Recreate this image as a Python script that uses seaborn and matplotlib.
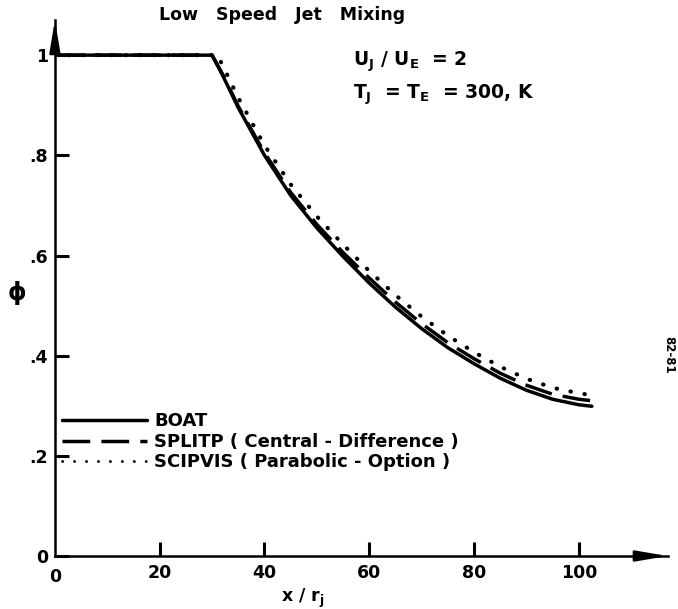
import matplotlib
matplotlib.use("Agg")
import matplotlib.pyplot as plt
import seaborn as sns

# centreline values
x_boat = [0, 30, 32, 35, 40, 45, 50, 55, 60, 65, 70, 75, 80, 85, 90, 95, 100, 102.5]
phi_boat = [1.0, 1.0, 0.96, 0.895, 0.80, 0.72, 0.655, 0.598, 0.545, 0.497, 0.454,
            0.416, 0.384, 0.355, 0.331, 0.313, 0.302, 0.299]

x_splitp = [0, 30, 32, 35, 40, 45, 50, 55, 60, 65, 70, 75, 80, 85, 90, 95, 100, 102.5]
phi_splitp = [1.0, 1.0, 0.962, 0.898, 0.805, 0.726, 0.662, 0.606, 0.555, 0.507, 0.464,
              0.426, 0.394, 0.365, 0.341, 0.323, 0.313, 0.310]

x_scipvis = [0, 31, 32, 35, 40, 45, 50, 55, 60, 65, 70, 75, 80, 85, 90, 95, 100, 102.5]
phi_scipvis = [1.0, 1.0, 0.98, 0.915, 0.82, 0.742, 0.678, 0.622, 0.569, 0.521, 0.478,
               0.440, 0.407, 0.378, 0.354, 0.336, 0.325, 0.321]

x_ticks = [0, 20, 40, 60, 80, 100]
x_tick_labels = ["0", "20", "40", "60", "80", "100"]
y_ticks = [0, 0.2, 0.4, 0.6, 0.8, 1.0]
y_tick_labels = ["0", ".2", ".4", ".6", ".8", "1"]

sns.set_style("white")
plt.rcParams["font.family"] = ["DejaVu Sans"]
plt.rcParams["font.weight"] = "bold"
plt.rcParams["mathtext.default"] = "bf"
plt.rcParams["text.color"] = "black"
plt.rcParams["axes.labelcolor"] = "black"
plt.rcParams["xtick.bottom"] = True
plt.rcParams["ytick.left"] = True

fig = plt.figure(figsize=(6.78, 6.09), dpi=100)
ax = fig.add_axes([0.081, 0.087, 0.904, 0.880])

sns.lineplot(x=x_boat, y=phi_boat, ax=ax, color="black", lw=2.5,
             label="BOAT")
sns.lineplot(x=x_splitp, y=phi_splitp, ax=ax, color="black", lw=2.5,
             linestyle=(0, (8, 3.2)), label="SPLITP ( Central - Difference )")
sns.lineplot(x=x_scipvis, y=phi_scipvis, ax=ax, color="black", lw=3.0,
             linestyle=(0, (0.1, 3.3)), dash_capstyle="round",
             label="SCIPVIS ( Parabolic - Option )")

ax.set_xlim(0, 117)
ax.set_ylim(0, 1.07)
ax.set_xticks(x_ticks[1:])
ax.set_xticklabels(x_tick_labels[1:])
ax.set_yticks(y_ticks)
ax.set_yticklabels(y_tick_labels)
ax.set_axisbelow(False)
ax.tick_params(axis="both", direction="in", length=10, width=2.2, color="black",
               labelcolor="black", labelsize=12.5)
ax.tick_params(axis="x", pad=6)
ax.tick_params(axis="y", pad=5)
# the "0" under the origin
ax.text(0, -0.04, "0", transform=ax.get_xaxis_transform(), ha="center",
        va="center", fontsize=12.5, fontweight="bold")

for side in ["top", "right"]:
    ax.spines[side].set_visible(False)
for side in ["left", "bottom"]:
    ax.spines[side].set_linewidth(1.8)
    ax.spines[side].set_color("black")

# arrow heads on the axes
arrow = dict(arrowstyle="-|>,head_length=1.9,head_width=0.32", color="black",
             lw=1.8, mutation_scale=10, shrinkA=0, shrinkB=0)
ax.annotate("", xy=(1.0, 0), xytext=(0.95, 0), xycoords="axes fraction",
            arrowprops=arrow, annotation_clip=False)
ax.annotate("", xy=(0, 1.0), xytext=(0, 0.95), xycoords="axes fraction",
            arrowprops=arrow, annotation_clip=False)

ax.set_xlabel(r"x / r$_{j}$", fontsize=12.5, fontweight="bold")
ax.xaxis.set_label_coords(0.404, -0.058)
ax.set_ylabel(r"$\phi$", fontsize=17, rotation=0)
ax.yaxis.set_label_coords(-0.062, 0.465)

leg = ax.legend(loc="upper left", bbox_to_anchor=(0.012, 0.268), frameon=False,
                fontsize=13, handlelength=4.7, handletextpad=0.4, labelspacing=0.14,
                borderpad=0, borderaxespad=0)
# the key's dotted sample is finer than the plotted curve
leg.get_lines()[2].set_linewidth(2.0)
leg.get_lines()[2].set_linestyle((0, (0.1, 4.2)))

fig.text(282 / 678, 1 - 15 / 609, "Low   Speed   Jet   Mixing", ha="center",
         va="center", fontsize=12.5, fontweight="bold")
fig.text(353 / 678, 1 - 62 / 609, r"U$_J$ / U$_E$  = 2", ha="left",
         va="center", fontsize=13.5, fontweight="bold")
fig.text(353 / 678, 1 - 95 / 609, r"T$_J$  = T$_E$  = 300, K", ha="left",
         va="center", fontsize=13.5, fontweight="bold")
fig.text(669 / 678, 1 - 355 / 609, "82-81", ha="center", va="center",
         rotation=-90, fontsize=8.5, fontweight="bold")

fig.savefig("out.png", dpi=100)
